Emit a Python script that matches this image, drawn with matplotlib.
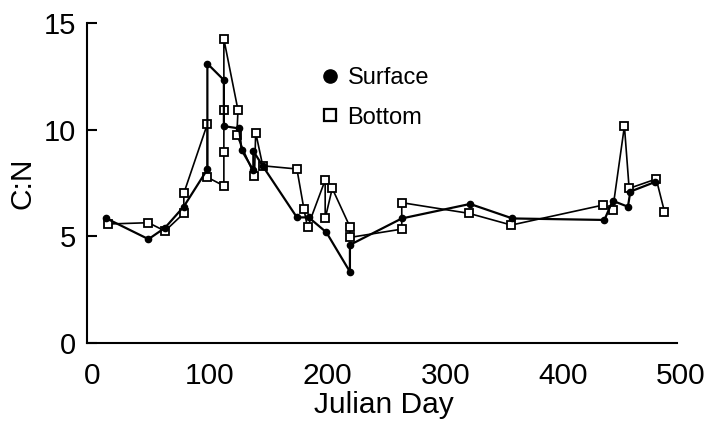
import matplotlib.pyplot as plt
from matplotlib.lines import Line2D

plt.rcParams['font.family'] = ['Liberation Sans', 'DejaVu Sans']

# surface samples (filled circles), in sampling order
surface_day = [12, 48, 62, 78, 98, 98, 112, 112, 125, 127, 137, 137, 145,
               174, 184, 199, 219, 219, 263, 321, 357, 435, 442, 455, 457, 478]
surface_cn = [5.85, 4.87, 5.4, 6.4, 8.14, 13.1, 12.33, 10.17, 10.06, 9.05, 8.1, 9.0, 8.3,
              5.89, 5.89, 5.19, 3.34, 4.6, 5.84, 6.52, 5.84, 5.77, 6.67, 6.39, 7.1, 7.55]

# bottom samples (open squares), in sampling order
bottom_day = [14, 48, 62, 78, 78, 98, 98, 112, 112, 112, 112, 124, 123, 138, 139, 145,
              174, 180, 183, 198, 198, 204, 219, 219, 263, 263, 320, 356,
              434, 442, 452, 456, 479, 486]
bottom_cn = [5.58, 5.64, 5.25, 6.08, 7.02, 10.27, 7.77, 7.37, 8.97, 10.92, 14.25, 10.92, 9.75, 7.84, 9.87, 8.31,
             8.16, 6.27, 5.42, 7.64, 5.84, 7.25, 5.45, 4.95, 5.34, 6.58, 6.08, 5.53,
             6.47, 6.23, 10.17, 7.25, 7.69, 6.16]


def main():
    fig = plt.figure(figsize=(7.1, 4.28), dpi=100)
    # axes run a bit past the drawn x spine so the 500 label sits where it does in the original
    ax = fig.add_axes([0.1225, 0.1986, 0.8366, 0.7474])

    ax.plot(bottom_day, bottom_cn, color="black", lw=1.2, marker="s", ms=6,
            mfc="white", mec="black", mew=1.3, zorder=2)
    ax.plot(surface_day, surface_cn, color="black", lw=1.6, marker="o", ms=4.5,
            mfc="black", mec="black", zorder=3)

    ax.set_xlim(-4.2, 500)
    ax.set_ylim(0, 15)
    ax.set_xticks([0, 100, 200, 300, 400, 500])
    ax.set_yticks([0, 5, 10, 15])

    for side in ["top", "right"]:
        ax.spines[side].set_visible(False)
    for side in ["left", "bottom"]:
        ax.spines[side].set_linewidth(1.5)
    ax.spines["bottom"].set_bounds(-4.2, 496.5)

    ax.tick_params(axis="y", direction="in", length=7, width=1.5, labelsize=21, pad=8)
    ax.tick_params(axis="x", length=0, labelsize=21.5, pad=13.5)

    ax.set_xlabel("Julian Day", fontsize=21.5, labelpad=1)
    ax.set_ylabel("C:N", fontsize=21.5, labelpad=5)

    # legend with markers only, no frame
    handles = [
        Line2D([], [], ls="none", marker="o", ms=9.5, mfc="black", mec="black"),
        Line2D([], [], ls="none", marker="s", ms=8, mfc="white", mec="black", mew=1.6),
    ]
    ax.legend(handles, ["Surface", "Bottom"], frameon=False, loc="upper left",
              bbox_to_anchor=(0.377, 0.893), borderaxespad=0, fontsize=17,
              handlelength=0.8, handletextpad=0.35, labelspacing=0.76)

    fig.savefig("out.png", dpi=100)


if __name__ == "__main__":
    main()
